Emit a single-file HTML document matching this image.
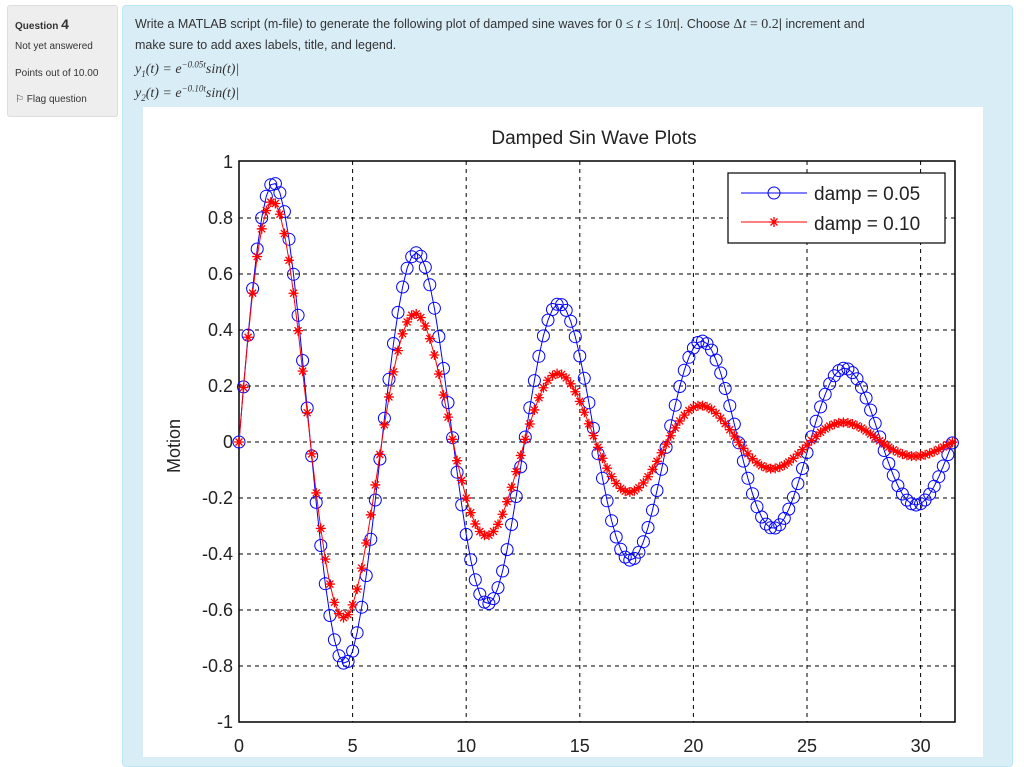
<!DOCTYPE html>
<html><head><meta charset="utf-8"><style>
body{margin:0;width:1024px;height:757px;overflow:hidden;background:#fff;font-family:"Liberation Sans",sans-serif;position:relative}
.side{position:absolute;left:7px;top:5px;width:109px;height:110px;background:#eee;border:1px solid #ddd;border-radius:3px;font-size:10px;color:#333}
.side div{position:absolute;left:7px}
.panel{position:absolute;left:122px;top:5px;width:889px;height:760px;background:#d9edf7;border:1px solid #bce8f1;border-radius:4px}
.q{position:absolute;left:135px;top:14px;font-size:12.5px;color:#333;line-height:21px}
.m{font-family:"Liberation Serif",serif;font-style:italic;font-size:14px;position:absolute;left:135px;color:#333;line-height:16px;white-space:nowrap}
.m sub,.m sup{font-size:9px;line-height:0}
svg{position:absolute;left:0;top:0}
</style></head><body>
<div class="side">
<div style="top:10px;font-weight:bold">Question <span style="font-size:14px">4</span></div>
<div style="top:35px">Not yet answered</div>
<div style="top:62px">Points out of 10.00</div>
<div style="top:88px">⚐ Flag question</div>
</div>
<div class="panel"></div>
<div class="q">Write a MATLAB script (m-file) to generate the following plot of damped sine waves for <span style="font-family:'Liberation Serif',serif;font-size:14px">0 ≤ <i>t</i> ≤ 10π</span>|. Choose <span style="font-family:'Liberation Serif',serif;font-size:14px">Δ<i>t</i> = 0.2</span>| increment and<br>make sure to add axes labels, title, and legend.</div>
<div class="m" style="top:62px">y<sub>1</sub>(t) = e<sup>−0.05t</sup>sin(t)|</div>
<div class="m" style="top:86px">y<sub>2</sub>(t) = e<sup>−0.10t</sup>sin(t)|</div>
<svg width="1024" height="757" id="s"><rect x="143" y="107" width="840" height="660" fill="#fff"/></svg>
<script>
var s=document.getElementById('s'),h='';
var X=function(t){return 239+t*22.72},Y=function(v){return 442-v*280};
var L=239,R=955,T=161,B=722;
for(var i=5;i<=30;i+=5){var x=X(i);h+='<line x1="'+x+'" y1="'+T+'" x2="'+x+'" y2="'+B+'" stroke="#000" stroke-dasharray="4,4"/>';}
for(var v=-0.8;v<=0.81;v+=0.2){var y=Y(v);h+='<line x1="'+L+'" y1="'+y+'" x2="'+R+'" y2="'+y+'" stroke="#000" stroke-dasharray="4,4"/>';}
h+='<rect x="'+L+'" y="'+T+'" width="'+(R-L)+'" height="'+(B-T)+'" fill="none" stroke="#000" stroke-width="1.5"/>';
var lab=['0','5','10','15','20','25','30'];
for(i=0;i<7;i++)h+='<text x="'+X(i*5)+'" y="752" font-size="18" text-anchor="middle" fill="#222">'+lab[i]+'</text>';
var yl=['-1','-0.8','-0.6','-0.4','-0.2','0','0.2','0.4','0.6','0.8','1'];
for(i=0;i<11;i++)h+='<text x="233" y="'+(Y(-1+i*0.2)+6)+'" font-size="18" text-anchor="end" fill="#222">'+yl[i]+'</text>';
h+='<text x="594" y="144" font-size="19" text-anchor="middle" fill="#222">Damped Sin Wave Plots</text>';
h+='<text transform="translate(180,446) rotate(-90)" font-size="18" text-anchor="middle" fill="#222">Motion</text>';
function ser(k,col,mk){var p='',m='';for(var t=0;t<=31.42;t+=0.2){var x=X(t),y=Y(Math.exp(-k*t)*Math.sin(t));p+=(p?'L':'M')+x.toFixed(1)+','+y.toFixed(1);
if(mk=='o')m+='<circle cx="'+x.toFixed(1)+'" cy="'+y.toFixed(1)+'" r="6" fill="none" stroke="'+col+'"/>';
else m+='<path d="M'+(x-5)+','+y+'h10M'+x+','+(y-5)+'v10M'+(x-3.5)+','+(y-3.5)+'l7,7M'+(x-3.5)+','+(y+3.5)+'l7,-7" stroke="'+col+'" stroke-width="1.3"/>';}
return '<path d="'+p+'" fill="none" stroke="'+col+'"/>'+m;}
h+=ser(0.05,'#0000ff','o')+ser(0.10,'#ff0000','*');
h+='<rect x="728" y="173" width="217" height="70" fill="#fff" stroke="#000" stroke-width="1.2"/>';
h+='<line x1="741" y1="193" x2="807" y2="193" stroke="#0000ff"/><circle cx="774" cy="193" r="6" fill="none" stroke="#0000ff"/>';
h+='<line x1="741" y1="222" x2="807" y2="222" stroke="#ff0000"/><path d="M769,222h10M774,217v10M770.5,218.5l7,7M770.5,225.5l7,-7" stroke="#ff0000" stroke-width="1.3"/>';
h+='<text x="814" y="200" font-size="19" fill="#222">damp = 0.05</text><text x="814" y="230" font-size="19" fill="#222">damp = 0.10</text>';
s.innerHTML+=h;
</script>
</body></html>
